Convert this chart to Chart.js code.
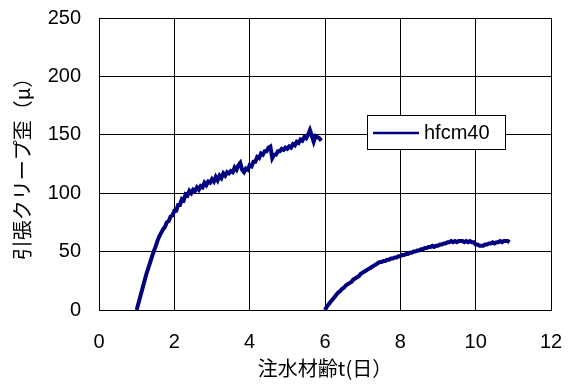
<!DOCTYPE html>
<html>
<head>
<meta charset="utf-8">
<script src="https://cdn.jsdelivr.net/npm/chart.js@4.4.1/dist/chart.umd.min.js"></script>
<style>
  html, body { margin: 0; padding: 0; background: #fff; }
  #wrap { width: 575px; height: 385px; }
</style>
</head>
<body>
<div id="wrap"><canvas id="creepChart" width="575" height="385"></canvas></div>
<script>
// hfcm40 tensile creep strain vs. age after water injection
const seriesName = 'hfcm40';

// first loading (day 1.0 - 5.9)
const ageDays1 = [
  1.00, 1.05, 1.10, 1.15, 1.20, 1.25, 1.30, 1.35, 1.40, 1.45,
  1.50, 1.55, 1.60, 1.65, 1.70, 1.75, 1.80, 1.85, 1.90, 1.95,
  2.00, 2.05, 2.10, 2.15, 2.20, 2.25, 2.30, 2.35, 2.40, 2.45,
  2.50, 2.55, 2.60, 2.65, 2.70, 2.75, 2.80, 2.85, 2.90, 2.95,
  3.00, 3.05, 3.10, 3.15, 3.20, 3.25, 3.30, 3.35, 3.40, 3.45,
  3.50, 3.55, 3.60, 3.65, 3.70, 3.75, 3.80, 3.85, 3.90, 3.95,
  4.00, 4.05, 4.10, 4.15, 4.20, 4.25, 4.30, 4.35, 4.40, 4.45,
  4.50, 4.55, 4.60, 4.65, 4.70, 4.75, 4.80, 4.85, 4.90, 4.95,
  5.00, 5.05, 5.10, 5.15, 5.20, 5.25, 5.30, 5.35, 5.40, 5.45,
  5.50, 5.55, 5.60, 5.65, 5.70, 5.75, 5.80, 5.85, 5.90
];
const strain1 = [
  0, 6, 12, 18, 24, 30, 35, 40, 45, 50,
  54, 59, 63, 66, 69, 71, 75, 76, 80, 81,
  85, 85, 90, 90, 95, 94, 99, 98, 102, 100,
  103, 102, 105, 103, 106, 105, 109, 107, 110, 109,
  112, 110, 114, 111, 115, 113, 117, 115, 118, 117,
  119, 118, 122, 120, 124, 126, 120, 118, 121, 120,
  124, 123, 127, 127, 131, 130, 134, 133, 136, 136,
  139, 140, 130, 133, 133, 136, 136, 138, 137, 139,
  138, 140, 139, 142, 141, 144, 143, 146, 145, 148,
  147, 150, 154, 149, 144, 149, 148, 147, 145
];

// second loading (day 6.0 - 10.9)
const ageDays2 = [
  6.00, 6.05, 6.10, 6.15, 6.20, 6.25, 6.30, 6.35, 6.40, 6.45,
  6.50, 6.55, 6.60, 6.65, 6.70, 6.75, 6.80, 6.85, 6.90, 6.95,
  7.00, 7.05, 7.10, 7.15, 7.20, 7.25, 7.30, 7.35, 7.40, 7.45,
  7.50, 7.55, 7.60, 7.65, 7.70, 7.75, 7.80, 7.85, 7.90, 7.95,
  8.00, 8.05, 8.10, 8.15, 8.20, 8.25, 8.30, 8.35, 8.40, 8.45,
  8.50, 8.55, 8.60, 8.65, 8.70, 8.75, 8.80, 8.85, 8.90, 8.95,
  9.00, 9.05, 9.10, 9.15, 9.20, 9.25, 9.30, 9.35, 9.40, 9.45,
  9.50, 9.55, 9.60, 9.65, 9.70, 9.75, 9.80, 9.85, 9.90, 9.95,
  10.00, 10.05, 10.10, 10.15, 10.20, 10.25, 10.30, 10.35, 10.40, 10.45,
  10.50, 10.55, 10.60, 10.65, 10.70, 10.75, 10.80, 10.85, 10.90
];
const strain2 = [
  0, 3, 5, 7, 9, 11, 13, 15, 16, 18,
  19, 21, 22, 23, 24, 26, 27, 28, 29, 31,
  32, 33, 34, 35, 36, 37, 38, 39, 40, 41,
  41, 42, 42, 43, 43, 44, 44, 45, 45, 46,
  46, 47, 47, 48, 48, 49, 49, 50, 50, 51,
  51, 52, 52, 53, 53, 54, 54, 55, 54, 55,
  55, 56, 56, 57, 57, 58, 58, 59, 58, 59,
  58, 59, 59, 59, 58, 59, 58, 59, 58, 58,
  56, 56, 55, 55, 55, 56, 56, 57, 57, 58,
  57, 58, 58, 59, 58, 59, 59, 59, 58
];

const xTicks = [0, 2, 4, 6, 8, 10, 12];
const yTicks = [0, 50, 100, 150, 200, 250];

// join both loadings, with a gap between them
const points = ageDays1.map((d, i) => ({ x: d, y: strain1[i] }))
  .concat([{ x: 5.95, y: null }])
  .concat(ageDays2.map((d, i) => ({ x: d, y: strain2[i] })));

const numFont = { family: "'Liberation Sans', Arial, sans-serif", size: 20 };
const jpFont = { family: "'Noto Sans CJK JP', sans-serif", size: 20 };

// legend box drawn inside the plot like the original
const legendBox = {
  id: 'legendBox',
  afterDraw(chart) {
    const ctx = chart.ctx;
    const ds = chart.data.datasets[0];
    ctx.save();
    ctx.fillStyle = '#fff';
    ctx.fillRect(367, 115, 139, 34);
    ctx.strokeStyle = '#000';
    ctx.lineWidth = 1;
    ctx.strokeRect(367.5, 115.5, 138, 34);
    ctx.strokeStyle = ds.borderColor;
    ctx.lineWidth = 2.5;
    ctx.beginPath();
    ctx.moveTo(373, 133);
    ctx.lineTo(419, 133);
    ctx.stroke();
    ctx.fillStyle = '#000';
    ctx.font = '20px ' + numFont.family;
    ctx.textBaseline = 'middle';
    ctx.textAlign = 'left';
    ctx.fillText(ds.label, 424, 133);
    ctx.restore();
  }
};

const ctx = document.getElementById('creepChart').getContext('2d');
const creepChart = new Chart(ctx, {
  type: 'scatter',
  data: {
    datasets: [{
      label: seriesName,
      data: points,
      showLine: true,
      spanGaps: false,
      borderColor: '#000080',
      backgroundColor: '#000080',
      borderWidth: 4,
      pointRadius: 0,
      tension: 0
    }]
  },
  options: {
    responsive: false,
    animation: false,
    layout: { padding: { top: 18, right: 24, bottom: 0, left: 0 } },
    plugins: {
      legend: { display: false },
      tooltip: { enabled: false }
    },
    scales: {
      x: {
        type: 'linear',
        min: 0,
        max: 12,
        afterBuildTicks: (s) => { s.ticks = xTicks.map(v => ({ value: v })); },
        afterFit: (s) => { s.height = 75; s.paddingLeft = 0; s.paddingRight = 0; },
        ticks: { color: '#000', font: numFont, padding: 20 },
        grid: { color: '#000', lineWidth: 1, drawTicks: false },
        border: { color: '#000' },
        title: { display: true, text: '注水材齢t(日）', color: '#000', font: jpFont, padding: { top: 0, bottom: 5 } }
      },
      y: {
        min: 0,
        max: 250,
        afterBuildTicks: (s) => { s.ticks = yTicks.map(v => ({ value: v })); },
        afterFit: (s) => { s.width = 99; s.paddingTop = 0; s.paddingBottom = 0; },
        ticks: { color: '#000', font: numFont, padding: 18 },
        grid: { color: '#000', lineWidth: 1, drawTicks: false },
        border: { color: '#000' },
        title: { display: true, text: '引張クリープ歪（μ）', color: '#000', font: jpFont, padding: { top: 10, bottom: 0 } }
      }
    }
  },
  plugins: [legendBox]
});
</script>
</body>
</html>
